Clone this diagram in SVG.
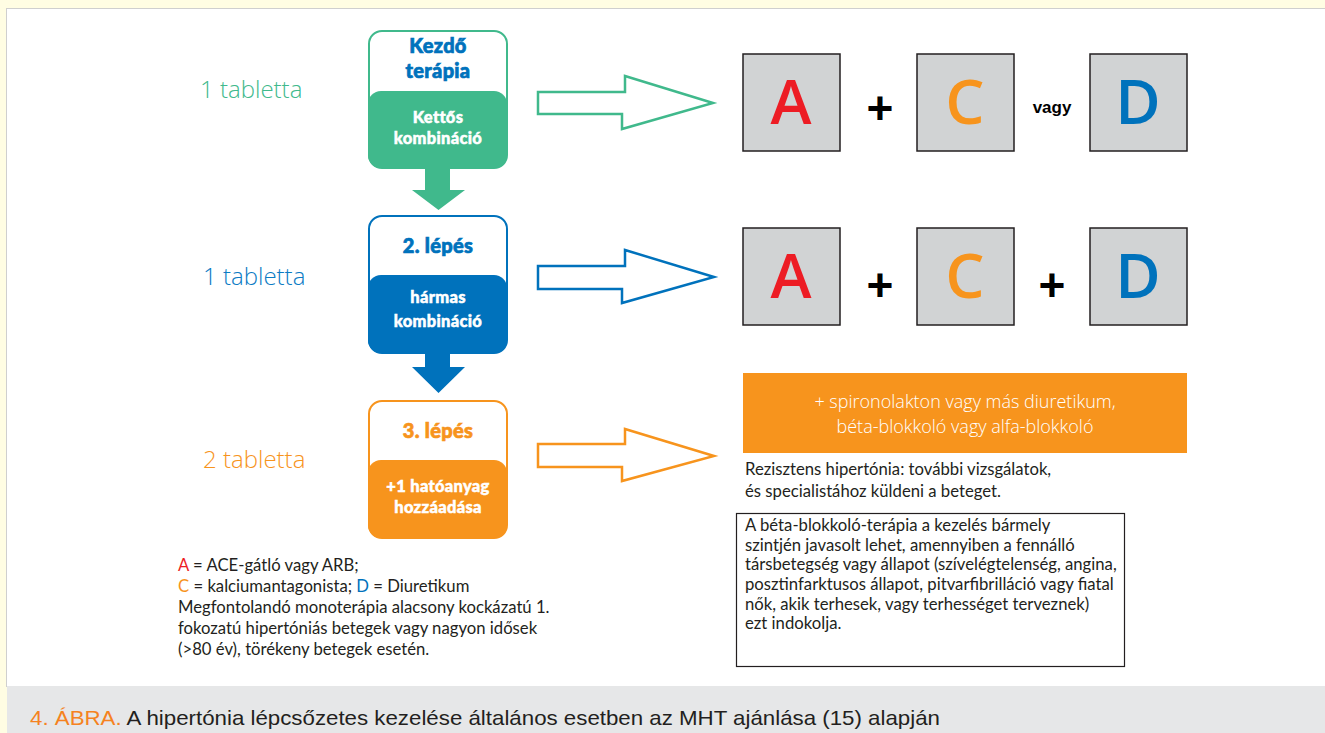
<svg xmlns="http://www.w3.org/2000/svg" width="1325" height="733" viewBox="0 0 1325 733">
<style>
.head{font-family:Lato,"Noto Sans",sans-serif;font-weight:900;font-size:20px;text-anchor:middle;stroke-width:0.7;letter-spacing:0.3px}
.sub{font-family:Lato,"Noto Sans",sans-serif;font-weight:900;font-size:16.5px;fill:#fff;stroke:#fff;stroke-width:0.5;text-anchor:middle;letter-spacing:0.3px}
.tab{font-family:"Open Sans","Noto Sans",sans-serif;font-weight:300;font-size:24px}
.sq{fill:#D1D3D4;stroke:#231F20;stroke-width:1.5}
.let{font-family:"Open Sans","Noto Sans",sans-serif;font-weight:600;font-size:62px;text-anchor:middle}
.plus{font-family:"Liberation Sans",Arial,sans-serif;font-weight:bold;font-size:46px;text-anchor:middle;fill:#000}
.body{font-family:Lato,"Noto Sans",sans-serif;font-size:16.7px;fill:#231F20}
.harrow{fill:#fff;stroke-width:2.5;stroke-linejoin:miter}
</style>
<rect x="0" y="0" width="1325" height="733" fill="#FFFDE3"/>
<rect x="6.5" y="8.5" width="1320" height="678" fill="#fff" stroke="#CFCFCF" stroke-width="1"/>
<rect x="7" y="686" width="1318" height="47" fill="#E6E7E8"/>

<g id="labels">
<text class="tab" x="200" y="98" fill="#40B98C">1 tabletta</text>
<text class="tab" x="203" y="285" fill="#0B7BC4">1 tabletta</text>
<text class="tab" x="203" y="468" fill="#F7941D">2 tabletta</text>
</g>

<g id="step1">
<rect x="369" y="31" width="138" height="137" rx="13" fill="#fff" stroke="#40B98C" stroke-width="2"/>
<path d="M368,104 a13,13 0 0 1 13,-13 h113 a13,13 0 0 1 13,13 v51 a13,13 0 0 1 -13,13 h-113 a13,13 0 0 1 -13,-13 z" fill="#40B98C"/>
<text class="head" x="438" y="53" fill="#0072BC" stroke="#0072BC">Kezdő</text>
<text class="head" x="438" y="78" fill="#0072BC" stroke="#0072BC">terápia</text>
<text class="sub" x="438" y="123">Kettős</text>
<text class="sub" x="438" y="144">kombináció</text>
</g>

<g id="step2">
<rect x="369" y="216" width="138" height="137" rx="13" fill="#fff" stroke="#0072BC" stroke-width="2"/>
<path d="M368,288 a13,13 0 0 1 13,-13 h113 a13,13 0 0 1 13,13 v52 a13,13 0 0 1 -13,13 h-113 a13,13 0 0 1 -13,-13 z" fill="#0072BC"/>
<text class="head" x="438" y="253" fill="#0072BC" stroke="#0072BC">2. lépés</text>
<text class="sub" x="438" y="303">hármas</text>
<text class="sub" x="438" y="327">kombináció</text>
</g>

<g id="step3">
<rect x="369" y="401" width="138" height="137" rx="13" fill="#fff" stroke="#F7941D" stroke-width="2"/>
<path d="M368,473 a13,13 0 0 1 13,-13 h113 a13,13 0 0 1 13,13 v52 a13,13 0 0 1 -13,13 h-113 a13,13 0 0 1 -13,-13 z" fill="#F7941D"/>
<text class="head" x="438" y="438" fill="#F7941D" stroke="#F7941D">3. lépés</text>
<text class="sub" x="438" y="492">+1 hatóanyag</text>
<text class="sub" x="438" y="513">hozzáadása</text>
</g>

<g id="connectors">
<path d="M425,168 h25 v22 h15 l-26.5,20 l-26.5,-20 h13 z" fill="#40B98C"/>
<path d="M425,353 h25 v14 h15 l-26.5,26 l-26.5,-26 h13 z" fill="#0072BC"/>
<path class="harrow" stroke="#40B98C" d="M538,92 L625,92 L625,76 L713,103 L622,129 L622,114 L538,114 Z"/>
<path class="harrow" stroke="#0072BC" d="M538,266 L625,266 L625,250 L714,277 L622,303 L622,289 L538,289 Z"/>
<path class="harrow" stroke="#F7941D" d="M538,444 L625,444 L625,429 L714,456 L622,481 L622,467 L538,467 Z"/>
</g>

<g id="row1">
<rect class="sq" x="743" y="54" width="97" height="97"/>
<text class="let" x="791" y="124" fill="#ED1C24">A</text>
<text class="plus" x="880" y="124">+</text>
<rect class="sq" x="917" y="54" width="97" height="97"/>
<text class="let" x="965" y="124" fill="#F7941D">C</text>
<text x="1052" y="113" font-family="'Liberation Sans',Arial,sans-serif" font-weight="bold" font-size="17" text-anchor="middle" fill="#000">vagy</text>
<rect class="sq" x="1090" y="54" width="97" height="97"/>
<text class="let" x="1138" y="124" fill="#0072BC">D</text>
</g>

<g id="row2">
<rect class="sq" x="743" y="228" width="97" height="97"/>
<text class="let" x="791" y="298" fill="#ED1C24">A</text>
<text class="plus" x="880" y="301">+</text>
<rect class="sq" x="917" y="228" width="97" height="97"/>
<text class="let" x="965" y="298" fill="#F7941D">C</text>
<text class="plus" x="1052" y="301">+</text>
<rect class="sq" x="1090" y="228" width="97" height="97"/>
<text class="let" x="1138" y="298" fill="#0072BC">D</text>
</g>

<g id="row3">
<rect x="743" y="373" width="444" height="80" fill="#F7941D"/>
<text x="965" y="408" font-family="'Open Sans','Noto Sans',sans-serif" font-weight="300" font-size="18" fill="#fff" text-anchor="middle">+ spironolakton vagy más diuretikum,</text>
<text x="965" y="433" font-family="'Open Sans','Noto Sans',sans-serif" font-weight="300" font-size="18" fill="#fff" text-anchor="middle">béta-blokkoló vagy alfa-blokkoló</text>
<text class="body" x="745" y="475">Rezisztens hipertónia: további vizsgálatok,</text>
<text class="body" x="745" y="497">és specialistához küldeni a beteget.</text>
</g>

<g id="note">
<rect x="736.5" y="513.5" width="388" height="153" fill="#fff" stroke="#231F20" stroke-width="1.2"/>
<text class="body" x="745" y="531">A béta-blokkoló-terápia a kezelés bármely</text>
<text class="body" x="745" y="551">szintjén javasolt lehet, amennyiben a fennálló</text>
<text class="body" x="745" y="570">társbetegség vagy állapot (szívelégtelenség, angina,</text>
<text class="body" x="745" y="590">posztinfarktusos állapot, pitvarfibrilláció vagy fiatal</text>
<text class="body" x="745" y="610">nők, akik terhesek, vagy terhességet terveznek)</text>
<text class="body" x="745" y="629">ezt indokolja.</text>
</g>

<g id="legend">
<text class="body" x="178" y="571"><tspan fill="#ED1C24">A</tspan> = ACE-gátló vagy ARB;</text>
<text class="body" x="178" y="592"><tspan fill="#F7941D">C</tspan> = kalciumantagonista; <tspan fill="#0072BC">D</tspan> = Diuretikum</text>
<text class="body" x="178" y="613">Megfontolandó monoterápia alacsony kockázatú 1.</text>
<text class="body" x="178" y="634">fokozatú hipertóniás betegek vagy nagyon idősek</text>
<text class="body" x="178" y="655">(&gt;80 év), törékeny betegek esetén.</text>
</g>

<g id="caption">
<text x="30" y="725" font-family="'Liberation Sans',Arial,sans-serif" font-size="21" textLength="910" lengthAdjust="spacingAndGlyphs" fill="#231F20"><tspan fill="#F58220">4. ÁBRA.</tspan> A hipertónia lépcsőzetes kezelése általános esetben az MHT ajánlása (15) alapján</text>
</g>
</svg>
